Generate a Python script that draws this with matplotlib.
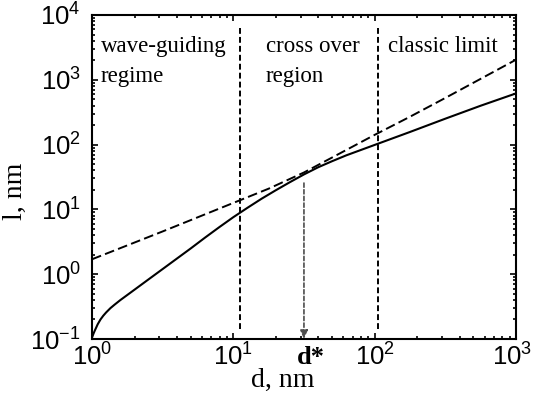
import matplotlib
matplotlib.use("Agg")
import matplotlib.pyplot as plt
import matplotlib.transforms as mtransforms
from matplotlib.ticker import LogLocator, NullFormatter, FixedLocator

# Mean free path l versus wire diameter d (log-log)
d_solid = [1.0, 1.023, 1.047, 1.072, 1.096, 1.148, 1.202, 1.259, 1.349, 1.445,
           1.585, 1.995, 2.512, 3.162, 3.981, 5.012, 6.310, 7.943, 10.0, 12.59,
           15.85, 19.95, 25.12, 31.62, 39.81, 50.12, 63.10, 79.43, 100.0, 177.8,
           316.2, 562.3, 1000.0]
l_solid = [0.105, 0.120, 0.135, 0.151, 0.168, 0.200, 0.229, 0.257, 0.299, 0.339,
           0.398, 0.575, 0.832, 1.202, 1.738, 2.512, 3.673, 5.309, 7.586, 10.59,
           14.62, 19.72, 26.30, 34.67, 44.67, 55.59, 68.39, 82.22, 98.86, 156.7,
           251.2, 398.1, 616.6]

d_dashed = [1.0, 1.778, 3.162, 5.623, 10.0, 17.78, 31.62, 56.23, 100.0, 177.8,
            316.2, 562.3, 1000.0]
l_dashed = [1.70, 2.786, 4.571, 7.586, 12.59, 20.89, 37.15, 72.44, 141.3, 269.2,
            524.8, 1035.0, 2042.0]

# Region boundaries and crossover diameter
d_bounds = [11.1, 106.0]
d_star = 31.6
l_star = 25.5

x_ticks = [1, 10, 100, 1000]
x_labels = ["10^{0}", "10^{1}", "10^{2}", "10^{3}"]
y_ticks = [0.1, 1, 10, 100, 1000, 10000]
y_labels = ["10^{-1}", "10^{0}", "10^{1}", "10^{2}", "10^{3}", "10^{4}"]

region_texts = ["wave-guiding\nregime", "cross over\nregion", "classic limit"]
region_x = [0.021, 0.41, 0.698]

plt.rcParams["font.family"] = ["Liberation Sans", "DejaVu Sans"]
plt.rcParams["mathtext.fontset"] = "custom"
plt.rcParams["mathtext.rm"] = "Liberation Sans"

fig = plt.figure(figsize=(5.33, 4.01), dpi=100)
ax = fig.add_axes([0.1726, 0.1546, 0.7955, 0.808])
ax.set_xscale("log")
ax.set_yscale("log")
ax.set_xlim(1, 1000)
ax.set_ylim(0.1, 10000)

ax.plot(d_solid, l_solid, color="black", lw=1.5, solid_capstyle="butt")
ax.plot(d_dashed, l_dashed, color="black", lw=1.4, dashes=(5, 2.2))

for xb in d_bounds:
    ax.plot([xb, xb], [0.143, 7000], color="black", lw=1.4, dashes=(3, 1.6))

ax.annotate("", xy=(d_star, 0.1), xytext=(d_star, l_star),
            arrowprops=dict(arrowstyle="-|>,head_length=0.5,head_width=0.22",
                            color="0.3", lw=1.2, linestyle=(0, (2.5, 1.5)),
                            shrinkA=0, shrinkB=0))

for txt, xf in zip(region_texts, region_x):
    ax.text(xf, 0.935, txt, transform=ax.transAxes, ha="left", va="top",
            fontsize=16.5, family="Liberation Serif", linespacing=1.55)

ax.text(d_star * 1.12, -0.022, "d*", transform=ax.get_xaxis_transform(),
        ha="center", va="top", fontsize=19, family="Liberation Serif",
        fontweight="bold")

ax.xaxis.set_major_locator(FixedLocator(x_ticks))
ax.set_xticklabels(["$\\mathregular{%s}$" % s for s in x_labels])
ax.yaxis.set_major_locator(FixedLocator(y_ticks))
ax.set_yticklabels(["$\\mathregular{%s}$" % s for s in y_labels])
ax.xaxis.set_minor_locator(LogLocator(base=10, subs=range(2, 10), numticks=20))
ax.yaxis.set_minor_locator(LogLocator(base=10, subs=range(2, 10), numticks=20))
ax.xaxis.set_minor_formatter(NullFormatter())
ax.yaxis.set_minor_formatter(NullFormatter())

ax.tick_params(which="both", direction="in", top=True, right=True,
               labelsize=18.5, width=1.2)
ax.tick_params(which="major", length=4.5)
ax.tick_params(axis="x", which="major", pad=3)
ax.tick_params(axis="y", which="major", pad=8)
ax.tick_params(which="minor", length=2.5)
for sp in ax.spines.values():
    sp.set_linewidth(1.5)

# keep the last x tick label inside the figure
last = ax.get_xticklabels()[-1]
last.set_transform(last.get_transform() +
                   mtransforms.ScaledTranslation(-4 / 100, 0, fig.dpi_scale_trans))

ax.set_xlabel("d, nm", family="Liberation Serif", fontsize=20)
ax.set_ylabel("l, nm", family="Liberation Serif", fontsize=20)
ax.xaxis.set_label_coords(0.45, -0.088)
ax.yaxis.set_label_coords(-0.152, 0.455)

fig.savefig("out.png", dpi=100)
